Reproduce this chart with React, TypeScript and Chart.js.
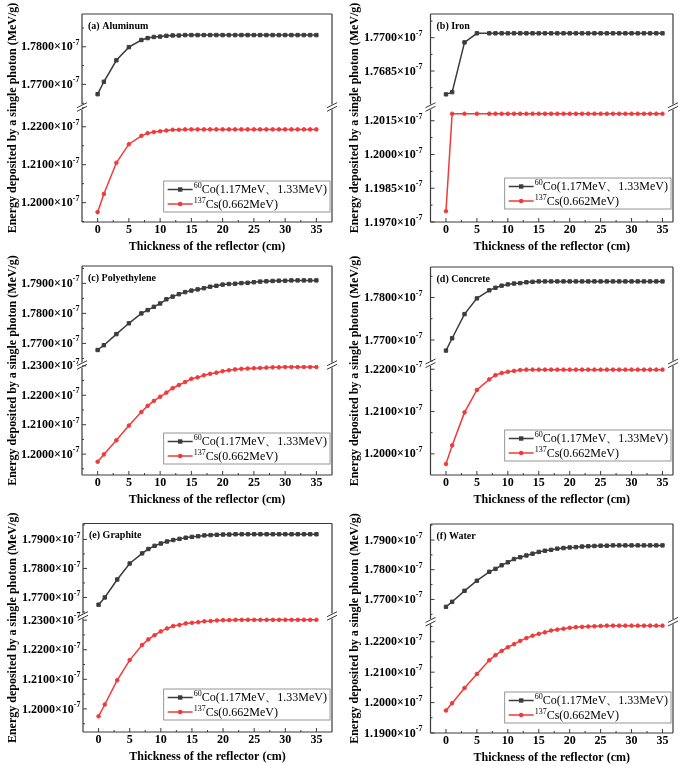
import React, { useEffect, useRef } from 'react';
import { Chart, registerables } from 'chart.js';

Chart.register(...registerables);

// ---------------- data ----------------
const X_THICKNESS = [0, 1, 3, 5, 7, 8, 9, 10, 11, 12, 13, 14, 15, 16, 17, 18, 19, 20, 21, 22, 23, 24, 25, 26, 27, 28, 29, 30, 31, 32, 33, 34, 35];
const X_TICKS = [0, 5, 10, 15, 20, 25, 30, 35];
const EXPONENT = '-7'; // all energies are mantissas of ×10^-7 MeV/g

const CO_ISO = '60';
const CO_NAME = 'Co(1.17MeV、1.33MeV)';
const CS_ISO = '137';
const CS_NAME = 'Cs(0.662MeV)';
const X_TITLE = 'Thickness of the reflector (cm)';
const Y_TITLE = 'Energy deposited by a single photon (MeV/g)';
const PANEL_TITLES = ['(a) Aluminum', '(b) Iron', '(c) Polyethylene', '(d) Concrete', '(e) Graphite', '(f) Water'];

// (a) Aluminum
const AL_CO = [1.7674, 1.7707, 1.7764, 1.7799, 1.7818, 1.7823, 1.7826, 1.7827, 1.7829, 1.7830,
  1.7830, 1.7831, 1.7831, 1.7831, 1.7831, 1.7831, 1.7831, 1.7831, 1.7831, 1.7831,
  1.7831, 1.7831, 1.7831, 1.7831, 1.7831, 1.7831, 1.7831, 1.7831, 1.7831, 1.7831,
  1.7831, 1.7831, 1.7831];
const AL_CS = [1.1975, 1.2023, 1.2105, 1.2154, 1.2176, 1.2183, 1.2186, 1.2188, 1.2190, 1.2192,
  1.2192, 1.2193, 1.2193, 1.2193, 1.2193, 1.2193, 1.2193, 1.2193, 1.2193, 1.2193,
  1.2193, 1.2193, 1.2193, 1.2193, 1.2193, 1.2193, 1.2193, 1.2193, 1.2193, 1.2193,
  1.2193, 1.2193, 1.2193];
const AL_TOP_TICKS = [1.77, 1.78];
const AL_BOT_TICKS = [1.20, 1.21, 1.22];
const AL_TOP_RANGE = [1.7640, 1.7887];
const AL_BOT_RANGE = [1.1949, 1.2252];

// (b) Iron
const FE_CO = [1.76745, 1.76755, 1.76979, 1.7702, 1.7702, 1.7702, 1.7702, 1.7702, 1.7702, 1.7702,
  1.7702, 1.7702, 1.7702, 1.7702, 1.7702, 1.7702, 1.7702, 1.7702, 1.7702, 1.7702,
  1.7702, 1.7702, 1.7702, 1.7702, 1.7702, 1.7702, 1.7702, 1.7702, 1.7702, 1.7702,
  1.7702, 1.7702, 1.7702];
const FE_CS = [1.19748, 1.20181, 1.20181, 1.20181, 1.20181, 1.20181, 1.20181, 1.20181, 1.20181, 1.20181,
  1.20181, 1.20181, 1.20181, 1.20181, 1.20181, 1.20181, 1.20181, 1.20181, 1.20181, 1.20181,
  1.20181, 1.20181, 1.20181, 1.20181, 1.20181, 1.20181, 1.20181, 1.20181, 1.20181, 1.20181,
  1.20181, 1.20181, 1.20181];
const FE_TOP_TICKS = [1.7685, 1.77];
const FE_BOT_TICKS = [1.197, 1.1985, 1.20, 1.2015];
const FE_TOP_RANGE = [1.76688, 1.77107];
const FE_BOT_RANGE = [1.1970, 1.20211];

// (c) Polyethylene
const PE_CO = [1.7678, 1.7694, 1.7731, 1.7767, 1.7800, 1.7811, 1.7822, 1.7833, 1.7847, 1.7856,
  1.7864, 1.7871, 1.7876, 1.7880, 1.7884, 1.7889, 1.7892, 1.7896, 1.7898, 1.7899,
  1.7901, 1.7902, 1.7904, 1.7906, 1.7907, 1.7908, 1.7909, 1.7909, 1.7910, 1.7910,
  1.7910, 1.7910, 1.7910];
const PE_CS = [1.1974, 1.1999, 1.2047, 1.2097, 1.2143, 1.2164, 1.2181, 1.2195, 1.2209, 1.2224,
  1.2235, 1.2245, 1.2256, 1.2261, 1.2268, 1.2273, 1.2277, 1.2282, 1.2285, 1.2288,
  1.2290, 1.2291, 1.2292, 1.2293, 1.2294, 1.2295, 1.2295, 1.2296, 1.2296, 1.2296,
  1.2296, 1.2296, 1.2296];
const PE_TOP_TICKS = [1.77, 1.78, 1.79];
const PE_BOT_TICKS = [1.20, 1.21, 1.22, 1.23];
const PE_TOP_RANGE = [1.7628, 1.7958];
const PE_BOT_RANGE = [1.1929, 1.2303];

// (d) Concrete
const CON_CO = [1.7675, 1.7704, 1.7761, 1.7798, 1.7817, 1.7823, 1.7828, 1.7831, 1.7833, 1.7834,
  1.7836, 1.7837, 1.7838, 1.7838, 1.7838, 1.7838, 1.7838, 1.7838, 1.7838, 1.7838,
  1.7838, 1.7838, 1.7838, 1.7838, 1.7838, 1.7838, 1.7838, 1.7838, 1.7838, 1.7838,
  1.7838, 1.7838, 1.7838];
const CON_CS = [1.1976, 1.2020, 1.2098, 1.2151, 1.2176, 1.2186, 1.2191, 1.2194, 1.2196, 1.2198,
  1.2199, 1.2199, 1.2199, 1.2199, 1.2199, 1.2199, 1.2199, 1.2199, 1.2199, 1.2199,
  1.2199, 1.2199, 1.2199, 1.2199, 1.2199, 1.2199, 1.2199, 1.2199, 1.2199, 1.2199,
  1.2199, 1.2199, 1.2199];
const CON_TOP_TICKS = [1.77, 1.78];
const CON_BOT_TICKS = [1.20, 1.21, 1.22];
const CON_TOP_RANGE = [1.7645, 1.7872];
const CON_BOT_RANGE = [1.1950, 1.2214];

// (e) Graphite
const GR_CO = [1.7675, 1.7700, 1.7762, 1.7817, 1.7852, 1.7867, 1.7878, 1.7886, 1.7893, 1.7898,
  1.7902, 1.7906, 1.7909, 1.7911, 1.7914, 1.7915, 1.7916, 1.7917, 1.7917, 1.7918,
  1.7918, 1.7918, 1.7918, 1.7918, 1.7918, 1.7918, 1.7918, 1.7918, 1.7918, 1.7918,
  1.7918, 1.7918, 1.7918];
const GR_CS = [1.1975, 1.2015, 1.2097, 1.2165, 1.2216, 1.2235, 1.2249, 1.2262, 1.2272, 1.2280,
  1.2284, 1.2289, 1.2291, 1.2293, 1.2296, 1.2297, 1.2299, 1.2300, 1.2300, 1.2301,
  1.2301, 1.2301, 1.2301, 1.2301, 1.2301, 1.2301, 1.2301, 1.2301, 1.2301, 1.2301,
  1.2301, 1.2301, 1.2301];
const GR_TOP_TICKS = [1.77, 1.78, 1.79];
const GR_BOT_TICKS = [1.20, 1.21, 1.22, 1.23];
const GR_TOP_RANGE = [1.7636, 1.7955];
const GR_BOT_RANGE = [1.1922, 1.2314];

// (f) Water
const W_CO = [1.7675, 1.7692, 1.7729, 1.7763, 1.7793, 1.7803, 1.7815, 1.7825, 1.7836, 1.7842,
  1.7848, 1.7854, 1.7860, 1.7864, 1.7867, 1.7871, 1.7873, 1.7875, 1.7876, 1.7878,
  1.7879, 1.7880, 1.7881, 1.7881, 1.7882, 1.7882, 1.7882, 1.7882, 1.7882, 1.7882,
  1.7882, 1.7882, 1.7882];
const W_CS = [1.1974, 1.1998, 1.2048, 1.2094, 1.2139, 1.2156, 1.2170, 1.2182, 1.2192, 1.2203,
  1.2212, 1.2220, 1.2226, 1.2231, 1.2237, 1.2240, 1.2243, 1.2246, 1.2248, 1.2249,
  1.2250, 1.2251, 1.2252, 1.2253, 1.2253, 1.2253, 1.2253, 1.2253, 1.2253, 1.2253,
  1.2253, 1.2253, 1.2253];
const W_TOP_TICKS = [1.77, 1.78, 1.79];
const W_BOT_TICKS = [1.19, 1.20, 1.21, 1.22];
const W_TOP_RANGE = [1.7625, 1.7954];
const W_BOT_RANGE = [1.1900, 1.2266];

// ---------------- styles & layout ----------------
const SERIF = '"Liberation Serif", "Times New Roman", serif';
const FRAME = '#3a3a3a';
const CO_COLOR = '#3c3c3c';
const CS_COLOR = '#f03a3a';

type Layout = {
  left: number; top: number; w: number; h: number;
  yw: number; padT: number; padR: number; padB: number;
  wTop: number; wBot: number; xMax: number; labelGap: number;
  legDy: number;
};

const LAYOUTS: Layout[] = [
  { left: 0, top: 0, w: 342, h: 258, yw: 82, padT: 14, padR: 10, padB: 4, wTop: 93, wBot: 115, xMax: 37.5, labelGap: 2.5, legDy: 41 },
  { left: 342, top: 0, w: 343, h: 258, yw: 88.5, padT: 14, padR: 12, padB: 4, wTop: 93, wBot: 115, xMax: 36.7, labelGap: 8, legDy: 44 },
  { left: 0, top: 250, w: 342, h: 262, yw: 82, padT: 16, padR: 10, padB: 5, wTop: 99, wBot: 110, xMax: 37.5, labelGap: 2.5, legDy: 42 },
  { left: 342, top: 250, w: 343, h: 262, yw: 88.5, padT: 17, padR: 12, padB: 5, wTop: 96.3, wBot: 111.7, xMax: 36.7, labelGap: 8, legDy: 45 },
  { left: 0, top: 510, w: 342, h: 256, yw: 83, padT: 13.5, padR: 10, padB: 2, wTop: 92.5, wBot: 116, xMax: 37.5, labelGap: 2.5, legDy: 43 },
  { left: 342, top: 510, w: 343, h: 256, yw: 88.5, padT: 14, padR: 12, padB: 1, wTop: 97.7, wBot: 111.3, xMax: 36.7, labelGap: 8, legDy: 41 },
];

type PanelData = {
  title: string; co: number[]; cs: number[];
  topTicks: number[]; botTicks: number[]; topRange: number[]; botRange: number[];
};

const PANELS: PanelData[] = [
  { title: PANEL_TITLES[0], co: AL_CO, cs: AL_CS, topTicks: AL_TOP_TICKS, botTicks: AL_BOT_TICKS, topRange: AL_TOP_RANGE, botRange: AL_BOT_RANGE },
  { title: PANEL_TITLES[1], co: FE_CO, cs: FE_CS, topTicks: FE_TOP_TICKS, botTicks: FE_BOT_TICKS, topRange: FE_TOP_RANGE, botRange: FE_BOT_RANGE },
  { title: PANEL_TITLES[2], co: PE_CO, cs: PE_CS, topTicks: PE_TOP_TICKS, botTicks: PE_BOT_TICKS, topRange: PE_TOP_RANGE, botRange: PE_BOT_RANGE },
  { title: PANEL_TITLES[3], co: CON_CO, cs: CON_CS, topTicks: CON_TOP_TICKS, botTicks: CON_BOT_TICKS, topRange: CON_TOP_RANGE, botRange: CON_BOT_RANGE },
  { title: PANEL_TITLES[4], co: GR_CO, cs: GR_CS, topTicks: GR_TOP_TICKS, botTicks: GR_BOT_TICKS, topRange: GR_TOP_RANGE, botRange: GR_BOT_RANGE },
  { title: PANEL_TITLES[5], co: W_CO, cs: W_CS, topTicks: W_TOP_TICKS, botTicks: W_BOT_TICKS, topRange: W_TOP_RANGE, botRange: W_BOT_RANGE },
];

// ---------------- custom drawing plugin ----------------
const framePlugin = {
  id: 'frame',
  afterDraw(chart: any) {
    const o = chart.options.plugins.frame;
    const { ctx, chartArea: ca } = chart;
    const xs = chart.scales.x, yT = chart.scales.yTop, yB = chart.scales.yBot;
    const yb = yT.bottom;
    const L = ca.left, R = ca.right, T = ca.top, B = ca.bottom;
    const seg = (x1: number, y1: number, x2: number, y2: number) => {
      ctx.beginPath(); ctx.moveTo(x1, y1); ctx.lineTo(x2, y2); ctx.stroke();
    };
    ctx.save();
    ctx.strokeStyle = FRAME;
    ctx.lineWidth = 1.2;
    const gap = 2.5;
    // frame
    seg(L, T, R, T);
    seg(L, B, R, B);
    seg(L, T, L, yb - gap); seg(L, yb + gap, L, B);
    seg(R, T, R, yb - gap); seg(R, yb + gap, R, B);
    // break marks
    ctx.lineWidth = 1;
    for (const xx of [L, R]) {
      for (const off of [-1.8, 1.8]) seg(xx - 5, yb + off + 2.5, xx + 5, yb + off - 2.5);
    }
    // x ticks (inward)
    ctx.lineWidth = 1;
    for (const v of X_TICKS) {
      const px = xs.getPixelForValue(v);
      seg(px, B, px, B - 4);
      const mv = v + 2.5;
      if (mv < xs.max) { const mx = xs.getPixelForValue(mv); seg(mx, B, mx, B - 2); }
    }
    // y ticks (inward) + labels
    const drawY = (s: any, ticks: number[]) => {
      const step = ticks.length > 1 ? ticks[1] - ticks[0] : 0.01;
      for (const v of ticks) {
        const py = s.getPixelForValue(v);
        seg(L, py, L + 4, py);
      }
      const mins: number[] = [];
      for (const v of ticks) { mins.push(v - step / 2); }
      mins.push(ticks[ticks.length - 1] + step / 2);
      for (const m of mins) {
        if (m > s.min + 1e-9 && m < s.max - 1e-9) { const py = s.getPixelForValue(m); seg(L, py, L + 2, py); }
      }
      ctx.fillStyle = '#000';
      ctx.textBaseline = 'middle';
      ctx.textAlign = 'left';
      for (const v of ticks) {
        const py = s.getPixelForValue(v);
        const main = v.toFixed(4) + '×10';
        ctx.font = `bold 12px ${SERIF}`;
        const wm = ctx.measureText(main).width;
        ctx.font = `bold 8px ${SERIF}`;
        const ws = ctx.measureText(EXPONENT).width;
        const right = L - o.labelGap;
        ctx.font = `bold 12px ${SERIF}`;
        ctx.fillText(main, right - ws - wm, py + 0.5);
        ctx.font = `bold 8px ${SERIF}`;
        ctx.fillText(EXPONENT, right - ws, py - 4);
      }
    };
    drawY(yT, o.topTicks);
    drawY(yB, o.botTicks);
    // y title
    ctx.save();
    ctx.translate(13, (T + B) / 2);
    ctx.rotate(-Math.PI / 2);
    ctx.font = `bold 12px ${SERIF}`;
    ctx.textAlign = 'center';
    ctx.textBaseline = 'middle';
    ctx.fillStyle = '#000';
    ctx.fillText(Y_TITLE, 0, 0);
    ctx.restore();
    // panel label
    ctx.font = `bold 10px ${SERIF}`;
    ctx.textAlign = 'left';
    ctx.textBaseline = 'middle';
    ctx.fillStyle = '#000';
    ctx.fillText(o.title, L + 6, T + 12);
    // legend
    const rows = [
      { iso: CO_ISO, name: CO_NAME, color: CO_COLOR, style: 'rect' },
      { iso: CS_ISO, name: CS_NAME, color: CS_COLOR, style: 'circle' },
    ];
    const fMain = `12px ${SERIF}`, fSup = `8px ${SERIF}`;
    let maxW = 0;
    for (const r of rows) {
      ctx.font = fSup; const a = ctx.measureText(r.iso).width;
      ctx.font = fMain; const b = ctx.measureText(r.name).width;
      maxW = Math.max(maxW, a + b);
    }
    const bw = 30 + maxW + 3, bh = 31;
    const bx = R - 2 - bw, by = B - o.legDy;
    ctx.fillStyle = '#fff';
    ctx.fillRect(bx, by, bw, bh);
    ctx.strokeStyle = '#8a8a8a';
    ctx.lineWidth = 0.9;
    ctx.strokeRect(bx, by, bw, bh);
    rows.forEach((r, i) => {
      const cy = by + 8.5 + i * 14.5;
      ctx.strokeStyle = r.color; ctx.fillStyle = r.color; ctx.lineWidth = 1.5;
      seg(bx + 4, cy, bx + 29, cy);
      if (r.style === 'rect') ctx.fillRect(bx + 16.5 - 2.2, cy - 2.2, 4.4, 4.4);
      else { ctx.beginPath(); ctx.arc(bx + 16.5, cy, 2.3, 0, Math.PI * 2); ctx.fill(); }
      ctx.fillStyle = '#000';
      ctx.textAlign = 'left';
      ctx.textBaseline = 'middle';
      ctx.font = fSup; const ws = ctx.measureText(r.iso).width;
      ctx.fillText(r.iso, bx + 30, cy - 3.5);
      ctx.font = fMain;
      ctx.fillText(r.name, bx + 30 + ws, cy + 0.5);
    });
    ctx.restore();
  },
};

function buildConfig(p: PanelData, lay: Layout): any {
  const pts = (ys: number[]) => X_THICKNESS.map((x, i) => ({ x, y: ys[i] }));
  return {
    type: 'line',
    data: {
      datasets: [
        {
          label: CO_ISO + CO_NAME, data: pts(p.co), yAxisID: 'yTop',
          borderColor: CO_COLOR, backgroundColor: CO_COLOR, pointBackgroundColor: CO_COLOR, pointBorderColor: CO_COLOR,
          borderWidth: 1.5, pointStyle: 'rect', pointRadius: 2.4, pointBorderWidth: 1, tension: 0, fill: false,
        },
        {
          label: CS_ISO + CS_NAME, data: pts(p.cs), yAxisID: 'yBot',
          borderColor: CS_COLOR, backgroundColor: CS_COLOR, pointBackgroundColor: CS_COLOR, pointBorderColor: CS_COLOR,
          borderWidth: 1.5, pointStyle: 'circle', pointRadius: 1.8, pointBorderWidth: 1, tension: 0, fill: false,
        },
      ],
    },
    options: {
      animation: false,
      responsive: false,
      maintainAspectRatio: false,
      devicePixelRatio: 1,
      events: [],
      layout: { padding: { left: 0, right: lay.padR, top: lay.padT, bottom: lay.padB } },
      plugins: {
        legend: { display: false },
        tooltip: { enabled: false },
        frame: { ...lay, title: p.title, topTicks: p.topTicks, botTicks: p.botTicks },
      },
      scales: {
        x: {
          type: 'linear', position: 'bottom', min: -2.5, max: lay.xMax,
          afterBuildTicks: (s: any) => { s.ticks = X_TICKS.map((v) => ({ value: v })); },
          afterFit: (s: any) => { s.height = 32; },
          grid: { display: false, drawTicks: false },
          border: { display: false },
          ticks: { color: '#000', padding: 1, font: { family: SERIF, size: 12, weight: 'bold' } },
          title: { display: true, text: X_TITLE, color: '#000', padding: 0, font: { family: SERIF, size: 12, weight: 'bold' } },
        },
        yBot: {
          type: 'linear', position: 'left', stack: 'ybreak', stackWeight: lay.wBot, weight: 0,
          min: p.botRange[0], max: p.botRange[1],
          afterBuildTicks: (s: any) => { s.ticks = p.botTicks.map((v) => ({ value: v })); },
          afterFit: (s: any) => { s.width = lay.yw; },
          ticks: { display: false },
          grid: { display: false, drawTicks: false },
          border: { display: false },
        },
        yTop: {
          type: 'linear', position: 'left', stack: 'ybreak', stackWeight: lay.wTop, weight: 1,
          min: p.topRange[0], max: p.topRange[1],
          afterBuildTicks: (s: any) => { s.ticks = p.topTicks.map((v) => ({ value: v })); },
          afterFit: (s: any) => { s.width = lay.yw; },
          ticks: { display: false },
          grid: { display: false, drawTicks: false },
          border: { display: false },
        },
      },
    },
    plugins: [framePlugin],
  };
}

function Panel({ data, lay }: { data: PanelData; lay: Layout }) {
  const ref = useRef<HTMLCanvasElement>(null);
  useEffect(() => {
    const chart = new Chart(ref.current as HTMLCanvasElement, buildConfig(data, lay));
    return () => chart.destroy();
  }, [data, lay]);
  return (
    <canvas
      ref={ref}
      width={lay.w}
      height={lay.h}
      style={{ position: 'absolute', left: lay.left, top: lay.top, width: lay.w, height: lay.h }}
    />
  );
}

export default function App() {
  return (
    <div style={{ position: 'absolute', left: 0, top: 0, width: 685, height: 766, background: '#fff', overflow: 'hidden' }}>
      {PANELS.map((p, i) => (
        <Panel key={i} data={p} lay={LAYOUTS[i]} />
      ))}
    </div>
  );
}
